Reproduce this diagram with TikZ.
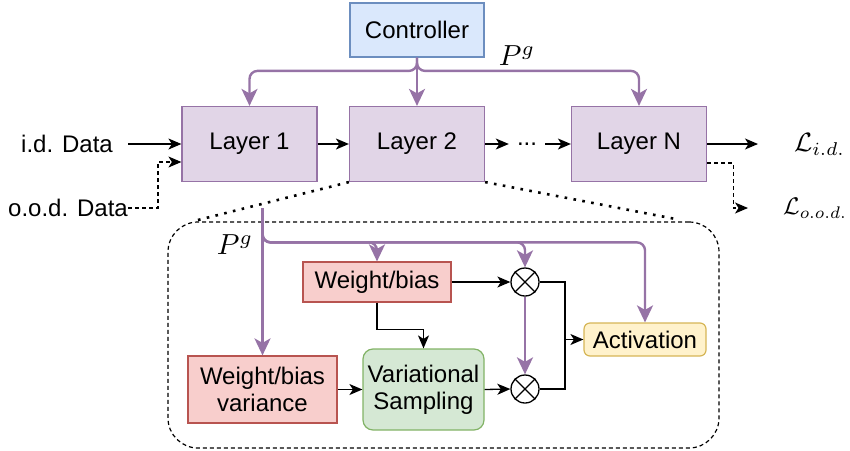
\documentclass[tikz,border=0pt]{standalone}
\usepackage{graphicx}
\usepackage{fontspec}
\setmainfont{Liberation Sans}
\usetikzlibrary{arrows.meta,calc}
\definecolor{bluef}{HTML}{DAE8FC}\definecolor{blued}{HTML}{6C8EBF}
\definecolor{purf}{HTML}{E1D5E7}\definecolor{purd}{HTML}{9673A6}
\definecolor{redf}{HTML}{F8CECC}\definecolor{redd}{HTML}{B85450}
\definecolor{grnf}{HTML}{D5E8D4}\definecolor{grnd}{HTML}{82B366}
\definecolor{yelf}{HTML}{FFF2CC}\definecolor{yeld}{HTML}{D6B656}
\newcommand{\bigmath}[2]{\scalebox{#1}{\fontsize{10}{12}\selectfont$#2$}}
\begin{document}
\begin{tikzpicture}[x=1pt,y=-1pt,
  txt/.style={font=\fontsize{24}{28}\selectfont, inner sep=0pt},
  mth/.style={inner sep=0pt},
  box/.style={draw, line width=1.2pt, font=\fontsize{24}{28}\selectfont, align=center, inner sep=0pt},
  layerbox/.style={box, fill=purf, draw=purd, minimum width=135pt, minimum height=75pt},
  redbox/.style={box, fill=redf, draw=redd},
  mult/.style={draw, circle, line width=1.3pt, minimum size=28pt, inner sep=0pt, fill=white},
  blk/.style={line width=1.3pt, -{Stealth[length=13pt,width=11pt,inset=3.5pt]}},
  pur/.style={draw=purd, line width=2.4pt, -{Stealth[length=17pt,width=16pt,inset=4.5pt]}, rounded corners=8pt},
  dsh/.style={line width=1.2pt, dash pattern=on 4pt off 3pt},
  dotl/.style={line width=2.6pt, dash pattern=on 2.6pt off 6.4pt},
]
\useasboundingbox (0,0) rectangle (850,450);

% group box
\node[draw, dsh, rounded corners=30pt, minimum width=551pt, minimum height=226pt, inner sep=0pt] (grp) at (443.5,335) {};

% top row
\node[box, fill=bluef, draw=blued, minimum width=134pt, minimum height=54pt] (ctrl) at (417,30) {Controller};
\node[layerbox] (L1) at (249.5,144) {Layer 1};
\node[layerbox] (L2) at (417,144) {Layer 2};
\node[layerbox] (LN) at (639,144) {Layer N};
\node[txt, minimum width=36pt] (dots) at (527,144) {...};
\node[txt] (idd) at (67,144) {i.d. Data};
\node[txt] (ood) at (68,208) {o.o.d. Data};
\node[mth, anchor=west] (Lid) at (794,144) {\bigmath{2.65}{\mathcal{L}_{i.d.}}};
\node[mth, anchor=west] (Lood) at (783,208) {\bigmath{2.4}{\mathcal{L}_{o.o.d.}}};
\node[mth] (pg1) at (517,56) {\bigmath{2.9}{P^g}};

% inner nodes
\node[redbox, minimum width=148pt, minimum height=40pt] (WB) at (377,282) {Weight/bias};
\node[redbox, minimum width=149pt, minimum height=67pt] (WBV) at (262.5,389.5) {Weight/bias\\[-1pt]variance};
\node[box, fill=grnf, draw=grnd, rounded corners=10pt, minimum width=121pt, minimum height=81pt] (VS) at (423.5,389.5) {Variational\\[-1pt]Sampling};
\node[mult] (M1) at (525,282) {};
\node[mult] (M2) at (525,389) {};
\draw[line width=1.3pt] (M1.north west) -- (M1.south east) (M1.north east) -- (M1.south west);
\draw[line width=1.3pt] (M2.north west) -- (M2.south east) (M2.north east) -- (M2.south west);
\node[box, fill=yelf, draw=yeld, rounded corners=6pt, minimum width=122pt, minimum height=33pt] (Act) at (645,339.5) {Activation};
\node[mth] (pg2) at (235,245) {\bigmath{2.9}{P^g}};

% dotted zoom lines
\draw[dotl] (L2.south west) -- ($(grp.north west)+(25,0)$);
\draw[dotl] (L2.south east) -- ($(grp.north east)+(-42,-2)$);

% top purple arrows
\draw[pur] (ctrl.south) -- (L2.north);
\draw[pur] (ctrl.south) |- ($(L1.north)+(0,-35)$) -- (L1.north);
\draw[pur] (ctrl.south) |- ($(LN.north)+(0,-35)$) -- (LN.north);

% black top row arrows
\draw[blk, shorten <=15pt] (idd.east) -- (L1.west);
\draw[blk] (L1.east) -- (L2.west);
\draw[blk] (L2.east) -- (dots.west);
\draw[blk] (dots.east) -- (LN.west);
\draw[blk, shorten >=36pt] (LN.east) -- (Lid.west);
\draw[blk, dsh] (ood.east) -- ++(30,0) |- ($(L1.west)+(0,18)$);
\draw[blk, dsh, shorten >=35pt] ($(LN.east)+(0,19)$) -- ++(26,0) |- (Lood.west);

% inner purple arrows
\coordinate (pgs) at (262.5,208);
\draw[pur] (pgs) -- (WBV.north);
\draw[pur] (pgs) |- ($(WB.north)+(0,-19)$) -- (WB.north);
\draw[pur] (pgs) |- ($(M1.north)+(0,-25)$) -- (M1.north);
\draw[pur] (pgs) |- ($(Act.north)+(0,-80)$) -- (Act.north);
\draw[pur] (M1.south) -- (M2.north);

% inner black arrows
\draw[blk] (WB.east) -- (M1.west);
\draw[blk] (WB.south) -- ++(0,27) -| (VS.north);
\draw[blk] (WBV.east) -- (VS.west);
\draw[blk] (VS.east) -- (M2.west);
\coordinate (jn) at (565,339.5);
\draw[line width=1.3pt] (M1.east) -| (jn);
\draw[line width=1.3pt] (M2.east) -| (jn);
\draw[blk] (jn) -- (Act.west);
\end{tikzpicture}
\end{document}
